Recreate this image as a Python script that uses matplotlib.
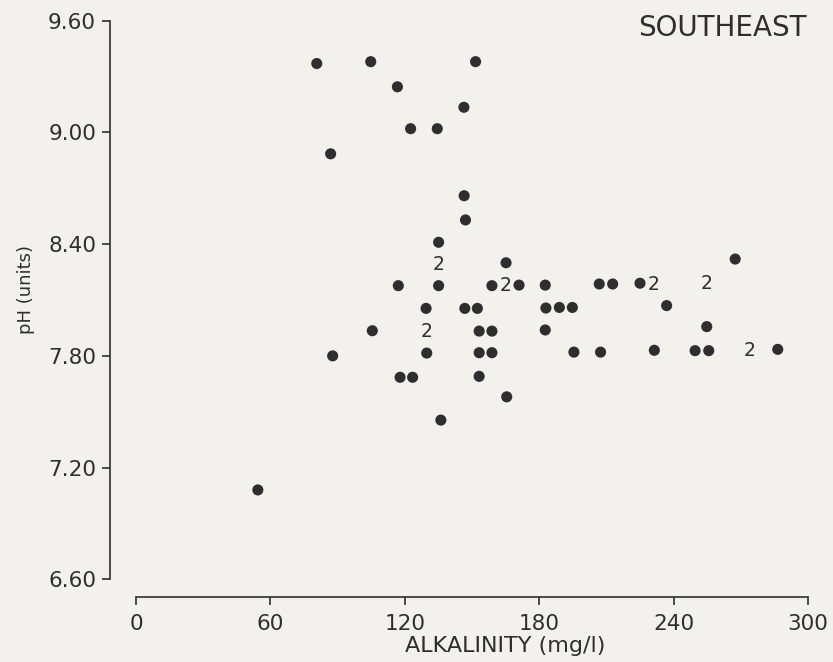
import matplotlib
matplotlib.use("Agg")
import matplotlib.pyplot as plt

# Single observations (alkalinity mg/l, pH units)
alk = [80.7, 104.8, 151.6, 116.7, 146.4, 122.6, 134.5, 86.9, 146.5, 147.1,
       135.1, 165.2, 267.5, 117.1, 135.1, 158.9, 171.0, 182.7, 206.8, 212.8,
       225.0, 129.5, 146.8, 152.4, 183.0, 189.0, 194.8, 236.9, 105.5, 153.2,
       158.9, 182.7, 254.8, 87.8, 129.8, 153.2, 158.9, 195.5, 207.4, 231.4,
       249.6, 255.7, 286.5, 117.9, 123.5, 153.2, 165.5, 136.1, 54.4]
ph = [9.37, 9.38, 9.38, 9.245, 9.135, 9.02, 9.02, 8.885, 8.66, 8.53,
      8.41, 8.30, 8.32, 8.177, 8.177, 8.177, 8.18, 8.18, 8.186, 8.186,
      8.19, 8.055, 8.055, 8.055, 8.057, 8.06, 8.06, 8.07, 7.935, 7.933,
      7.933, 7.939, 7.957, 7.80, 7.815, 7.817, 7.817, 7.82, 7.82, 7.83,
      7.828, 7.828, 7.835, 7.685, 7.685, 7.69, 7.58, 7.455, 7.08]

# Coincident observations (two lakes) shown as "2"
alk2 = [135.1, 165.2, 230.9, 254.8, 129.8, 273.8]
ph2 = [8.29, 8.177, 8.183, 8.186, 7.93, 7.828]
count_label = "2"

xticks = [0, 60, 120, 180, 240, 300]
yticks = [6.60, 7.20, 7.80, 8.40, 9.00, 9.60]
xlabel = "ALKALINITY (mg/l)"
ylabel = "pH (units)"
title = "SOUTHEAST"

bg = "#f2f1ed"
ink = "#2e2e2e"

plt.rcParams['font.family'] = ['DejaVu Sans']
fig = plt.figure(figsize=(8.33, 6.62), dpi=100, facecolor=bg)
ax = fig.add_axes([110/833, 1-597/662, (830.4-110)/833, (597-20.7)/662])
ax.set_facecolor(bg)

ax.scatter(alk, ph, s=64, color=ink, edgecolors='none', zorder=3, clip_on=False)
for x, y in zip(alk2, ph2):
    ax.text(x, y, count_label, ha='center', va='center', fontsize=13.5, color=ink, zorder=3)

ax.set_xlim(-11.6, 310)
ax.set_ylim(6.505, 9.60)

for s in ['top', 'right']:
    ax.spines[s].set_visible(False)
ax.spines['left'].set_bounds(6.60, 9.60)
ax.spines['bottom'].set_bounds(0, 300)
for s in ['left', 'bottom']:
    ax.spines[s].set_color(ink)
    ax.spines[s].set_linewidth(1.2)

ax.set_xticks(xticks)
ax.set_xticklabels([str(t) for t in xticks])
ax.set_yticks(yticks)
ax.set_yticklabels([f"{t:.2f}" for t in yticks])
ax.tick_params(axis='both', direction='out', length=6, width=1.2, color=ink,
               labelcolor=ink, labelsize=15.5, pad=4)
ax.tick_params(axis='x', pad=6)

fig.text(505/833, 1-646/662, xlabel, ha='center', va='center', fontsize=16, color=ink)
fig.text(26/833, 1-290/662, ylabel, ha='center', va='center', rotation=90, fontsize=13, color=ink)
fig.text(722/833, 1-28/662, title, ha='center', va='center', fontsize=20, color=ink)

fig.savefig("out.png", dpi=100, facecolor=bg)
